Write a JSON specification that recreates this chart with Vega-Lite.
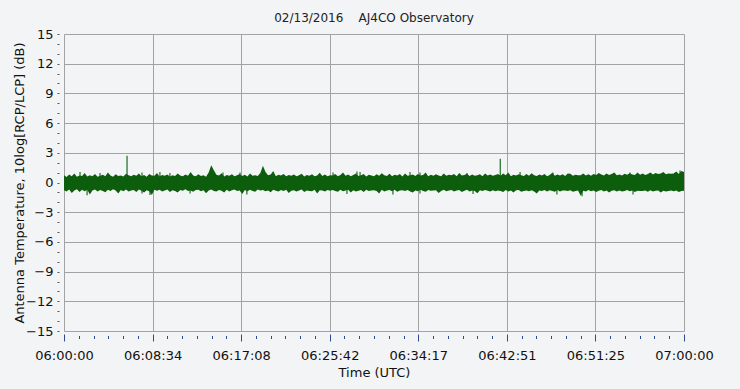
{
  "$schema": "https://vega.github.io/schema/vega-lite/v6.json",
  "width": 620,
  "height": 297,
  "autosize": {"type": "none"},
  "padding": {"left": 64, "top": 34, "right": 56, "bottom": 58},
  "background": "#f3f4f6",
  "title": {"text": "02/13/2016\u00a0\u00a0\u00a0\u00a0AJ4CO Observatory", "anchor": "middle", "font": "DejaVu Sans", "fontSize": 12, "fontWeight": "normal", "color": "#222222", "offset": 3},
  "config": {
    "view": {"stroke": null},
    "axis": {"labelFont": "DejaVu Sans", "titleFont": "DejaVu Sans", "labelColor": "#111111", "titleColor": "#111111", "titleFontWeight": "normal", "gridColor": "#a3a3a3", "gridOpacity": 1, "gridWidth": 1, "domain": false}
  },
  "datasets": {
    "band": [
      {"t":"2016-02-13T06:00:00Z","hi":0.72,"lo":-0.78},{"t":"2016-02-13T06:00:15Z","hi":0.55,"lo":-0.9},{"t":"2016-02-13T06:00:30Z","hi":0.81,"lo":-0.7},{"t":"2016-02-13T06:00:45Z","hi":0.63,"lo":-1.05},
      {"t":"2016-02-13T06:01:00Z","hi":0.9,"lo":-0.82},{"t":"2016-02-13T06:01:15Z","hi":0.58,"lo":-0.68},{"t":"2016-02-13T06:01:30Z","hi":0.7,"lo":-0.95},{"t":"2016-02-13T06:01:45Z","hi":0.66,"lo":-0.74},
      {"t":"2016-02-13T06:02:00Z","hi":0.95,"lo":-0.88},{"t":"2016-02-13T06:02:15Z","hi":0.6,"lo":-0.72},{"t":"2016-02-13T06:02:30Z","hi":0.74,"lo":-1.2},{"t":"2016-02-13T06:02:45Z","hi":0.62,"lo":-0.8},
      {"t":"2016-02-13T06:03:00Z","hi":0.85,"lo":-0.7},{"t":"2016-02-13T06:03:15Z","hi":0.57,"lo":-0.92},{"t":"2016-02-13T06:03:30Z","hi":0.69,"lo":-0.77},{"t":"2016-02-13T06:03:45Z","hi":0.78,"lo":-0.85},
      {"t":"2016-02-13T06:04:00Z","hi":0.64,"lo":-0.98},{"t":"2016-02-13T06:04:15Z","hi":1.02,"lo":-0.73},{"t":"2016-02-13T06:04:30Z","hi":0.7,"lo":-0.86},{"t":"2016-02-13T06:04:45Z","hi":0.59,"lo":-0.69},
      {"t":"2016-02-13T06:05:00Z","hi":0.83,"lo":-0.8},{"t":"2016-02-13T06:05:15Z","hi":0.66,"lo":-1.1},{"t":"2016-02-13T06:05:30Z","hi":0.71,"lo":-0.75},{"t":"2016-02-13T06:05:45Z","hi":0.6,"lo":-0.88},
      {"t":"2016-02-13T06:06:00Z","hi":0.88,"lo":-0.71},{"t":"2016-02-13T06:06:15Z","hi":0.73,"lo":-0.9},{"t":"2016-02-13T06:06:30Z","hi":0.62,"lo":-0.82},{"t":"2016-02-13T06:06:45Z","hi":0.79,"lo":-0.76},
      {"t":"2016-02-13T06:07:00Z","hi":0.68,"lo":-0.95},{"t":"2016-02-13T06:07:15Z","hi":0.92,"lo":-0.7},{"t":"2016-02-13T06:07:30Z","hi":0.64,"lo":-0.84},{"t":"2016-02-13T06:07:45Z","hi":0.75,"lo":-1.0},
      {"t":"2016-02-13T06:08:00Z","hi":0.58,"lo":-0.78},{"t":"2016-02-13T06:08:15Z","hi":0.86,"lo":-0.88},{"t":"2016-02-13T06:08:30Z","hi":0.7,"lo":-1.25},{"t":"2016-02-13T06:08:45Z","hi":0.67,"lo":-0.74},
      {"t":"2016-02-13T06:09:00Z","hi":0.97,"lo":-0.83},{"t":"2016-02-13T06:09:15Z","hi":0.61,"lo":-0.72},{"t":"2016-02-13T06:09:30Z","hi":0.77,"lo":-0.9},{"t":"2016-02-13T06:09:45Z","hi":0.69,"lo":-0.8},
      {"t":"2016-02-13T06:10:00Z","hi":0.82,"lo":-0.7},{"t":"2016-02-13T06:10:15Z","hi":0.6,"lo":-0.96},{"t":"2016-02-13T06:10:30Z","hi":0.73,"lo":-0.79},{"t":"2016-02-13T06:10:45Z","hi":0.65,"lo":-0.87},
      {"t":"2016-02-13T06:11:00Z","hi":0.9,"lo":-1.02},{"t":"2016-02-13T06:11:15Z","hi":0.71,"lo":-0.75},{"t":"2016-02-13T06:11:30Z","hi":0.63,"lo":-0.83},{"t":"2016-02-13T06:11:45Z","hi":0.8,"lo":-0.69},
      {"t":"2016-02-13T06:12:00Z","hi":0.67,"lo":-0.86},{"t":"2016-02-13T06:12:15Z","hi":1.05,"lo":-0.8},{"t":"2016-02-13T06:12:30Z","hi":0.7,"lo":-0.93},{"t":"2016-02-13T06:12:45Z","hi":0.62,"lo":-0.76},
      {"t":"2016-02-13T06:13:00Z","hi":0.84,"lo":-0.72},{"t":"2016-02-13T06:13:15Z","hi":0.66,"lo":-0.89},{"t":"2016-02-13T06:13:30Z","hi":0.74,"lo":-0.78},{"t":"2016-02-13T06:13:45Z","hi":0.59,"lo":-1.08},
      {"t":"2016-02-13T06:14:00Z","hi":1.0,"lo":-0.8},{"t":"2016-02-13T06:14:15Z","hi":1.75,"lo":-0.7},{"t":"2016-02-13T06:14:30Z","hi":1.25,"lo":-0.85},{"t":"2016-02-13T06:14:45Z","hi":0.79,"lo":-0.92},
      {"t":"2016-02-13T06:15:00Z","hi":0.71,"lo":-0.77},{"t":"2016-02-13T06:15:15Z","hi":0.93,"lo":-0.84},{"t":"2016-02-13T06:15:30Z","hi":0.6,"lo":-1.0},{"t":"2016-02-13T06:15:45Z","hi":0.76,"lo":-0.73},
      {"t":"2016-02-13T06:16:00Z","hi":0.68,"lo":-0.9},{"t":"2016-02-13T06:16:15Z","hi":0.83,"lo":-0.79},{"t":"2016-02-13T06:16:30Z","hi":0.62,"lo":-0.71},{"t":"2016-02-13T06:16:45Z","hi":0.72,"lo":-0.86},
      {"t":"2016-02-13T06:17:00Z","hi":0.87,"lo":-0.82},{"t":"2016-02-13T06:17:15Z","hi":0.65,"lo":-1.15},{"t":"2016-02-13T06:17:30Z","hi":0.78,"lo":-0.76},{"t":"2016-02-13T06:17:45Z","hi":0.61,"lo":-0.88},
      {"t":"2016-02-13T06:18:00Z","hi":0.9,"lo":-0.74},{"t":"2016-02-13T06:18:15Z","hi":0.69,"lo":-0.85},{"t":"2016-02-13T06:18:30Z","hi":0.74,"lo":-0.93},{"t":"2016-02-13T06:18:45Z","hi":0.66,"lo":-0.7},
      {"t":"2016-02-13T06:19:00Z","hi":0.95,"lo":-0.8},{"t":"2016-02-13T06:19:15Z","hi":1.7,"lo":-0.76},{"t":"2016-02-13T06:19:30Z","hi":1.05,"lo":-0.88},{"t":"2016-02-13T06:19:45Z","hi":0.73,"lo":-0.82},
      {"t":"2016-02-13T06:20:00Z","hi":0.8,"lo":-0.98},{"t":"2016-02-13T06:20:15Z","hi":1.15,"lo":-0.72},{"t":"2016-02-13T06:20:30Z","hi":0.63,"lo":-0.84},{"t":"2016-02-13T06:20:45Z","hi":0.79,"lo":-0.9},
      {"t":"2016-02-13T06:21:00Z","hi":0.7,"lo":-0.76},{"t":"2016-02-13T06:21:15Z","hi":0.86,"lo":-0.87},{"t":"2016-02-13T06:21:30Z","hi":0.62,"lo":-0.73},{"t":"2016-02-13T06:21:45Z","hi":0.75,"lo":-1.05},
      {"t":"2016-02-13T06:22:00Z","hi":0.67,"lo":-0.83},{"t":"2016-02-13T06:22:15Z","hi":0.82,"lo":-0.78},{"t":"2016-02-13T06:22:30Z","hi":0.64,"lo":-0.92},{"t":"2016-02-13T06:22:45Z","hi":0.72,"lo":-0.8},
      {"t":"2016-02-13T06:23:00Z","hi":0.88,"lo":-0.7},{"t":"2016-02-13T06:23:15Z","hi":0.6,"lo":-0.95},{"t":"2016-02-13T06:23:30Z","hi":0.77,"lo":-0.81},{"t":"2016-02-13T06:23:45Z","hi":0.69,"lo":-0.86},
      {"t":"2016-02-13T06:24:00Z","hi":0.84,"lo":-0.89},{"t":"2016-02-13T06:24:15Z","hi":0.63,"lo":-0.74},{"t":"2016-02-13T06:24:30Z","hi":0.71,"lo":-1.1},{"t":"2016-02-13T06:24:45Z","hi":0.98,"lo":-0.78},
      {"t":"2016-02-13T06:25:00Z","hi":0.66,"lo":-0.82},{"t":"2016-02-13T06:25:15Z","hi":0.8,"lo":-0.9},{"t":"2016-02-13T06:25:30Z","hi":0.62,"lo":-0.75},{"t":"2016-02-13T06:25:45Z","hi":0.74,"lo":-0.84},
      {"t":"2016-02-13T06:26:00Z","hi":0.7,"lo":-0.77},{"t":"2016-02-13T06:26:15Z","hi":0.87,"lo":-0.86},{"t":"2016-02-13T06:26:30Z","hi":0.64,"lo":-0.93},{"t":"2016-02-13T06:26:45Z","hi":0.76,"lo":-0.72},
      {"t":"2016-02-13T06:27:00Z","hi":1.0,"lo":-0.88},{"t":"2016-02-13T06:27:15Z","hi":0.68,"lo":-0.8},{"t":"2016-02-13T06:27:30Z","hi":0.81,"lo":-0.74},{"t":"2016-02-13T06:27:45Z","hi":0.63,"lo":-1.02},
      {"t":"2016-02-13T06:28:00Z","hi":0.75,"lo":-0.79},{"t":"2016-02-13T06:28:15Z","hi":0.9,"lo":-0.91},{"t":"2016-02-13T06:28:30Z","hi":0.66,"lo":-0.83},{"t":"2016-02-13T06:28:45Z","hi":0.72,"lo":-0.76},
      {"t":"2016-02-13T06:29:00Z","hi":0.85,"lo":-0.96},{"t":"2016-02-13T06:29:15Z","hi":0.61,"lo":-0.73},{"t":"2016-02-13T06:29:30Z","hi":0.78,"lo":-0.87},{"t":"2016-02-13T06:29:45Z","hi":0.7,"lo":-0.8},
      {"t":"2016-02-13T06:30:00Z","hi":0.64,"lo":-0.78},{"t":"2016-02-13T06:30:15Z","hi":0.83,"lo":-0.85},{"t":"2016-02-13T06:30:30Z","hi":0.69,"lo":-1.12},{"t":"2016-02-13T06:30:45Z","hi":0.94,"lo":-0.74},
      {"t":"2016-02-13T06:31:00Z","hi":0.72,"lo":-0.9},{"t":"2016-02-13T06:31:15Z","hi":0.66,"lo":-0.8},{"t":"2016-02-13T06:31:30Z","hi":0.88,"lo":-0.76},{"t":"2016-02-13T06:31:45Z","hi":0.63,"lo":-0.88},
      {"t":"2016-02-13T06:32:00Z","hi":0.79,"lo":-0.72},{"t":"2016-02-13T06:32:15Z","hi":0.7,"lo":-0.94},{"t":"2016-02-13T06:32:30Z","hi":0.85,"lo":-0.82},{"t":"2016-02-13T06:32:45Z","hi":0.61,"lo":-0.79},
      {"t":"2016-02-13T06:33:00Z","hi":0.92,"lo":-0.86},{"t":"2016-02-13T06:33:15Z","hi":0.67,"lo":-0.77},{"t":"2016-02-13T06:33:30Z","hi":0.74,"lo":-0.9},{"t":"2016-02-13T06:33:45Z","hi":0.8,"lo":-1.0},
      {"t":"2016-02-13T06:34:00Z","hi":0.65,"lo":-0.8},{"t":"2016-02-13T06:34:15Z","hi":0.86,"lo":-0.88},{"t":"2016-02-13T06:34:30Z","hi":0.7,"lo":-0.73},{"t":"2016-02-13T06:34:45Z","hi":0.76,"lo":-0.85},
      {"t":"2016-02-13T06:35:00Z","hi":1.0,"lo":-0.93},{"t":"2016-02-13T06:35:15Z","hi":0.62,"lo":-0.76},{"t":"2016-02-13T06:35:30Z","hi":0.78,"lo":-0.84},{"t":"2016-02-13T06:35:45Z","hi":0.69,"lo":-0.8},
      {"t":"2016-02-13T06:36:00Z","hi":0.84,"lo":-0.78},{"t":"2016-02-13T06:36:15Z","hi":0.71,"lo":-1.05},{"t":"2016-02-13T06:36:30Z","hi":0.64,"lo":-0.87},{"t":"2016-02-13T06:36:45Z","hi":0.9,"lo":-0.74},
      {"t":"2016-02-13T06:37:00Z","hi":0.68,"lo":-0.89},{"t":"2016-02-13T06:37:15Z","hi":0.79,"lo":-0.8},{"t":"2016-02-13T06:37:30Z","hi":0.73,"lo":-0.76},{"t":"2016-02-13T06:37:45Z","hi":0.86,"lo":-0.92},
      {"t":"2016-02-13T06:38:00Z","hi":0.63,"lo":-0.82},{"t":"2016-02-13T06:38:15Z","hi":0.95,"lo":-0.77},{"t":"2016-02-13T06:38:30Z","hi":0.7,"lo":-0.95},{"t":"2016-02-13T06:38:45Z","hi":0.75,"lo":-0.84},
      {"t":"2016-02-13T06:39:00Z","hi":0.88,"lo":-0.74},{"t":"2016-02-13T06:39:15Z","hi":0.66,"lo":-0.9},{"t":"2016-02-13T06:39:30Z","hi":0.8,"lo":-0.81},{"t":"2016-02-13T06:39:45Z","hi":0.69,"lo":-0.87},
      {"t":"2016-02-13T06:40:00Z","hi":0.73,"lo":-1.08},{"t":"2016-02-13T06:40:15Z","hi":0.84,"lo":-0.79},{"t":"2016-02-13T06:40:30Z","hi":0.62,"lo":-0.86},{"t":"2016-02-13T06:40:45Z","hi":0.92,"lo":-0.75},
      {"t":"2016-02-13T06:41:00Z","hi":0.7,"lo":-0.84},{"t":"2016-02-13T06:41:15Z","hi":0.81,"lo":-0.92},{"t":"2016-02-13T06:41:30Z","hi":0.67,"lo":-0.78},{"t":"2016-02-13T06:41:45Z","hi":0.76,"lo":-0.88},
      {"t":"2016-02-13T06:42:00Z","hi":0.85,"lo":-0.8},{"t":"2016-02-13T06:42:15Z","hi":0.68,"lo":-0.86},{"t":"2016-02-13T06:42:30Z","hi":0.9,"lo":-0.95},{"t":"2016-02-13T06:42:45Z","hi":0.72,"lo":-0.76},
      {"t":"2016-02-13T06:43:00Z","hi":1.0,"lo":-0.9},{"t":"2016-02-13T06:43:15Z","hi":0.64,"lo":-0.82},{"t":"2016-02-13T06:43:30Z","hi":0.78,"lo":-1.0},{"t":"2016-02-13T06:43:45Z","hi":0.7,"lo":-0.79},
      {"t":"2016-02-13T06:44:00Z","hi":0.83,"lo":-0.76},{"t":"2016-02-13T06:44:15Z","hi":0.72,"lo":-0.94},{"t":"2016-02-13T06:44:30Z","hi":0.66,"lo":-0.85},{"t":"2016-02-13T06:44:45Z","hi":0.87,"lo":-0.8},
      {"t":"2016-02-13T06:45:00Z","hi":0.69,"lo":-0.88},{"t":"2016-02-13T06:45:15Z","hi":0.93,"lo":-0.78},{"t":"2016-02-13T06:45:30Z","hi":0.74,"lo":-0.9},{"t":"2016-02-13T06:45:45Z","hi":0.65,"lo":-1.1},
      {"t":"2016-02-13T06:46:00Z","hi":0.8,"lo":-0.82},{"t":"2016-02-13T06:46:15Z","hi":0.7,"lo":-0.87},{"t":"2016-02-13T06:46:30Z","hi":0.86,"lo":-0.75},{"t":"2016-02-13T06:46:45Z","hi":0.63,"lo":-0.91},
      {"t":"2016-02-13T06:47:00Z","hi":0.76,"lo":-0.79},{"t":"2016-02-13T06:47:15Z","hi":0.98,"lo":-0.85},{"t":"2016-02-13T06:47:30Z","hi":0.68,"lo":-0.93},{"t":"2016-02-13T06:47:45Z","hi":0.8,"lo":-0.77},
      {"t":"2016-02-13T06:48:00Z","hi":0.71,"lo":-0.9},{"t":"2016-02-13T06:48:15Z","hi":0.84,"lo":-0.8},{"t":"2016-02-13T06:48:30Z","hi":0.65,"lo":-0.82},{"t":"2016-02-13T06:48:45Z","hi":0.9,"lo":-0.86},
      {"t":"2016-02-13T06:49:00Z","hi":0.88,"lo":-0.78},{"t":"2016-02-13T06:49:15Z","hi":0.67,"lo":-0.93},{"t":"2016-02-13T06:49:30Z","hi":0.79,"lo":-0.85},{"t":"2016-02-13T06:49:45Z","hi":0.72,"lo":-0.8},
      {"t":"2016-02-13T06:50:00Z","hi":0.74,"lo":-1.35},{"t":"2016-02-13T06:50:15Z","hi":0.9,"lo":-0.84},{"t":"2016-02-13T06:50:30Z","hi":0.7,"lo":-0.9},{"t":"2016-02-13T06:50:45Z","hi":0.83,"lo":-0.77},
      {"t":"2016-02-13T06:51:00Z","hi":0.68,"lo":-0.88},{"t":"2016-02-13T06:51:15Z","hi":0.86,"lo":-0.8},{"t":"2016-02-13T06:51:30Z","hi":0.75,"lo":-0.95},{"t":"2016-02-13T06:51:45Z","hi":0.95,"lo":-0.83},
      {"t":"2016-02-13T06:52:00Z","hi":0.8,"lo":-0.76},{"t":"2016-02-13T06:52:15Z","hi":0.7,"lo":-0.9},{"t":"2016-02-13T06:52:30Z","hi":0.92,"lo":-0.82},{"t":"2016-02-13T06:52:45Z","hi":0.77,"lo":-1.02},
      {"t":"2016-02-13T06:53:00Z","hi":0.85,"lo":-0.84},{"t":"2016-02-13T06:53:15Z","hi":1.0,"lo":-0.79},{"t":"2016-02-13T06:53:30Z","hi":0.73,"lo":-0.92},{"t":"2016-02-13T06:53:45Z","hi":0.8,"lo":-0.8},
      {"t":"2016-02-13T06:54:00Z","hi":0.7,"lo":-0.9},{"t":"2016-02-13T06:54:15Z","hi":0.88,"lo":-0.85},{"t":"2016-02-13T06:54:30Z","hi":0.78,"lo":-0.77},{"t":"2016-02-13T06:54:45Z","hi":0.94,"lo":-0.88},
      {"t":"2016-02-13T06:55:00Z","hi":0.82,"lo":-0.8},{"t":"2016-02-13T06:55:15Z","hi":0.75,"lo":-0.95},{"t":"2016-02-13T06:55:30Z","hi":1.0,"lo":-0.84},{"t":"2016-02-13T06:55:45Z","hi":0.79,"lo":-0.86},
      {"t":"2016-02-13T06:56:00Z","hi":0.9,"lo":-0.87},{"t":"2016-02-13T06:56:15Z","hi":0.77,"lo":-0.8},{"t":"2016-02-13T06:56:30Z","hi":0.86,"lo":-0.93},{"t":"2016-02-13T06:56:45Z","hi":1.02,"lo":-0.78},
      {"t":"2016-02-13T06:57:00Z","hi":0.8,"lo":-0.92},{"t":"2016-02-13T06:57:15Z","hi":0.95,"lo":-0.84},{"t":"2016-02-13T06:57:30Z","hi":0.85,"lo":-0.8},{"t":"2016-02-13T06:57:45Z","hi":0.9,"lo":-1.0},
      {"t":"2016-02-13T06:58:00Z","hi":1.05,"lo":-0.83},{"t":"2016-02-13T06:58:15Z","hi":0.84,"lo":-0.9},{"t":"2016-02-13T06:58:30Z","hi":0.92,"lo":-0.86},{"t":"2016-02-13T06:58:45Z","hi":0.88,"lo":-0.8},
      {"t":"2016-02-13T06:59:00Z","hi":0.9,"lo":-0.88},{"t":"2016-02-13T06:59:15Z","hi":1.1,"lo":-0.82},{"t":"2016-02-13T06:59:30Z","hi":0.86,"lo":-0.95},{"t":"2016-02-13T06:59:45Z","hi":1.15,"lo":-0.85},
      {"t":"2016-02-13T07:00:00Z","hi":1.05,"lo":-0.84}
    ],
    "spikes": [
      {"t":"2016-02-13T06:06:06Z","base":0,"v":2.7},
      {"t":"2016-02-13T06:42:13Z","base":0,"v":2.4},
      {"t":"2016-02-13T06:01:33Z","base":0,"v":1.05},
      {"t":"2016-02-13T06:03:29Z","base":0,"v":0.95},
      {"t":"2016-02-13T06:07:33Z","base":0,"v":1.0},
      {"t":"2016-02-13T06:09:17Z","base":0,"v":1.05},
      {"t":"2016-02-13T06:10:15Z","base":0,"v":0.95},
      {"t":"2016-02-13T06:15:23Z","base":0,"v":1.0},
      {"t":"2016-02-13T06:17:02Z","base":0,"v":1.0},
      {"t":"2016-02-13T06:26:02Z","base":0,"v":1.0},
      {"t":"2016-02-13T06:28:21Z","base":0,"v":1.1},
      {"t":"2016-02-13T06:28:39Z","base":0,"v":1.05},
      {"t":"2016-02-13T06:33:29Z","base":0,"v":1.05},
      {"t":"2016-02-13T06:34:27Z","base":0,"v":1.0},
      {"t":"2016-02-13T06:39:00Z","base":0,"v":0.95},
      {"t":"2016-02-13T06:44:08Z","base":0,"v":1.05},
      {"t":"2016-02-13T06:47:19Z","base":0,"v":1.0},
      {"t":"2016-02-13T06:54:46Z","base":0,"v":1.0},
      {"t":"2016-02-13T06:59:37Z","base":0,"v":1.2},
      {"t":"2016-02-13T06:02:14Z","base":0,"v":-1.3},
      {"t":"2016-02-13T06:07:33Z","base":0,"v":-1.1},
      {"t":"2016-02-13T06:08:19Z","base":0,"v":-1.25},
      {"t":"2016-02-13T06:12:12Z","base":0,"v":-1.1},
      {"t":"2016-02-13T06:17:42Z","base":0,"v":-1.2},
      {"t":"2016-02-13T06:27:23Z","base":0,"v":-1.15},
      {"t":"2016-02-13T06:31:50Z","base":0,"v":-1.2},
      {"t":"2016-02-13T06:34:27Z","base":0,"v":-1.1},
      {"t":"2016-02-13T06:39:35Z","base":0,"v":-1.15},
      {"t":"2016-02-13T06:47:42Z","base":0,"v":-1.2},
      {"t":"2016-02-13T06:50:08Z","base":0,"v":-1.4},
      {"t":"2016-02-13T06:55:04Z","base":0,"v":-1.2}
    ]
  },
  "layer": [
    {
      "data": {"name": "band"},
      "mark": {"type": "area", "color": "#0c5e0c", "opacity": 1, "interpolate": "linear", "clip": true},
      "encoding": {
        "x": {"field": "t", "type": "temporal", "scale": {"type": "utc", "domain": [1455343200000, 1455346800000]},
          "axis": {"title": "Time (UTC)", "values": [1455343200000, 1455343714286, 1455344228571, 1455344742857, 1455345257143, 1455345771429, 1455346285714, 1455346800000],
            "labelExpr": "utcFormat(datum.value, '%H:%M:%S')", "grid": true, "offset": 3, "tickSize": 7, "tickColor": "#2b4a8f", "labelPadding": 8, "labelFontSize": 13, "titleFontSize": 13, "titlePadding": 4, "labelFlush": false, "labelOverlap": false}},
        "y": {"field": "lo", "type": "quantitative", "scale": {"domain": [-15, 15], "nice": false, "zero": false},
          "axis": {"title": "Antenna Temperature, 10log[RCP/LCP] (dB)", "values": [-15, -12, -9, -6, -3, 0, 3, 6, 9, 12, 15], "grid": true, "offset": 5, "tickSize": 2, "tickColor": "#555555", "labelPadding": 4, "labelFontSize": 13, "titleFontSize": 13, "titlePadding": -1, "labelFlush": false, "labelOverlap": false}},
        "y2": {"field": "hi"}
      }
    },
    {
      "data": {"name": "spikes"},
      "mark": {"type": "rule", "color": "#0c5e0c", "strokeWidth": 1.1, "clip": true},
      "encoding": {
        "x": {"field": "t", "type": "temporal",
          "axis": {"title": null, "orient": "bottom", "labels": false, "grid": false, "offset": 4.5, "tickSize": 3, "tickColor": "#2b4a8f",
            "values": [1455343200000, 1455343285714, 1455343371429, 1455343457143, 1455343542857, 1455343628571, 1455343714286,
                       1455343800000, 1455343885714, 1455343971429, 1455344057143, 1455344142857, 1455344228571, 1455344314286,
                       1455344400000, 1455344485714, 1455344571429, 1455344657143, 1455344742857, 1455344828571, 1455344914286,
                       1455345000000, 1455345085714, 1455345171429, 1455345257143, 1455345342857, 1455345428571, 1455345514286,
                       1455345600000, 1455345685714, 1455345771429, 1455345857143, 1455345942857, 1455346028571, 1455346114286,
                       1455346200000, 1455346285714, 1455346371429, 1455346457143, 1455346542857, 1455346628571, 1455346714286,
                       1455346800000]}},
        "y": {"field": "base", "type": "quantitative",
          "axis": {"title": null, "orient": "left", "labels": false, "grid": false, "offset": 5, "tickSize": 2, "tickColor": "#555555",
            "values": [-14, -13, -11, -10, -8, -7, -5, -4, -2, -1, 1, 2, 4, 5, 7, 8, 10, 11, 13, 14]}},
        "y2": {"field": "v"}
      }
    }
  ],
  "resolve": {"axis": {"x": "independent", "y": "independent"}}
}
